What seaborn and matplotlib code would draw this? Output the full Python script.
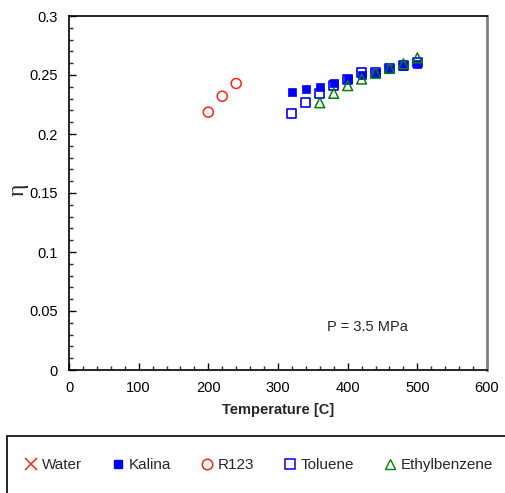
import matplotlib
matplotlib.use("Agg")
import matplotlib.pyplot as plt
import seaborn as sns
import pandas as pd
import numpy as np
from matplotlib.lines import Line2D
from matplotlib.patches import Rectangle
from matplotlib.ticker import MultipleLocator

sns.set_style("white")
plt.rcParams['font.family'] = ['Liberation Sans', 'DejaVu Sans']

# Data
water_T = []
water_eta = []
kalina_T = [320, 340, 360, 380, 400, 420, 440, 460, 480, 500]
kalina_eta = [0.236, 0.238, 0.240, 0.2435, 0.2465, 0.250, 0.2515, 0.2548, 0.2576, 0.2592]
r123_T = [200, 220, 240]
r123_eta = [0.2185, 0.232, 0.2428]
toluene_T = [320, 340, 360, 380, 400, 420, 440, 460, 480, 500]
toluene_eta = [0.2175, 0.2265, 0.234, 0.2413, 0.2465, 0.252, 0.2525, 0.2558, 0.2583, 0.261]
ethyl_T = [360, 380, 400, 420, 440, 460, 480, 500]
ethyl_eta = [0.2265, 0.2345, 0.2410, 0.2466, 0.2515, 0.2556, 0.2595, 0.2645]

x_ticks = [0, 100, 200, 300, 400, 500, 600]
y_ticks = [0, 0.05, 0.1, 0.15, 0.2, 0.25, 0.3]
y_tick_labels = ["0", "0.05", "0.1", "0.15", "0.2", "0.25", "0.3"]

W, H = 505, 493
fig = plt.figure(figsize=(W / 100, H / 100), dpi=100)
ax = fig.add_axes([69 / W, 1 - 370 / H, (487 - 69) / W, (370 - 16) / H])

RED = '#FF2020'
BLUE = '#0000FF'
GREEN = '#008000'

sns.scatterplot(x=toluene_T, y=toluene_eta, ax=ax, marker='s', s=42,
                facecolors='none', edgecolor=BLUE, linewidth=1.2, zorder=3)
sns.scatterplot(x=kalina_T, y=kalina_eta, ax=ax, marker='s', s=26,
                color=BLUE, edgecolor=BLUE, linewidth=0.5, zorder=4)
sns.scatterplot(x=r123_T, y=r123_eta, ax=ax, marker='o', s=52,
                facecolors='none', edgecolor=RED, linewidth=1.1, zorder=3)
sns.scatterplot(x=ethyl_T, y=ethyl_eta, ax=ax, marker='^', s=50,
                facecolors='none', edgecolor=GREEN, linewidth=1.1, zorder=5)

ax.set_xlim(0, 600)
ax.set_ylim(0, 0.3)
ax.set_xticks(x_ticks)
ax.set_yticks(y_ticks)
ax.set_yticklabels(y_tick_labels)
ax.xaxis.set_minor_locator(MultipleLocator(20))
ax.yaxis.set_minor_locator(MultipleLocator(0.01))
ax.tick_params(axis='both', which='major', direction='in', length=5, width=1,
               labelsize=10.5, colors='black', pad=8)
ax.tick_params(axis='both', which='minor', direction='in', length=3, width=1)
ax.tick_params(axis='x', which='both', bottom=True, top=False)
ax.tick_params(axis='y', which='both', left=True, right=False)

for side in ['left', 'bottom', 'top']:
    ax.spines[side].set_color('black')
    ax.spines[side].set_linewidth(1.2)
ax.spines['right'].set_color('#808080')
ax.spines['right'].set_linewidth(2)

ax.set_xlabel("Temperature [C]", fontsize=10.5, fontweight='bold', labelpad=6)
ax.set_ylabel("")
fig.text(18 / W, 1 - 190 / H, "η", family=['Liberation Serif', 'DejaVu Serif'],
         fontsize=17, rotation=90, ha='center', va='center')

ax.text(428, 0.0365, "P = 3.5 MPa", fontsize=10.5, ha='center', va='center')

# Legend frame
fig.patches.append(Rectangle((7 / W, -0.05), 1.0, 1 - 436 / H + 0.05,
                             transform=fig.transFigure, fill=False,
                             edgecolor='black', linewidth=1.2))

handles = [
    Line2D([], [], linestyle='none', marker='x', color=RED, markersize=8, markeredgewidth=1.1),
    Line2D([], [], linestyle='none', marker='s', color=BLUE, markersize=5.5),
    Line2D([], [], linestyle='none', marker='o', markerfacecolor='none', markeredgecolor=RED,
           markersize=7.5, markeredgewidth=1.1),
    Line2D([], [], linestyle='none', marker='s', markerfacecolor='none', markeredgecolor=BLUE,
           markersize=7, markeredgewidth=1.1),
    Line2D([], [], linestyle='none', marker='^', markerfacecolor='none', markeredgecolor=GREEN,
           markersize=7, markeredgewidth=1.0),
]
labels = ["Water", "Kalina", "R123", "Toluene", "Ethylbenzene"]
fig.legend(handles, labels, loc='center left', bbox_to_anchor=(25 / W, 1 - 465 / H),
           ncol=5, frameon=False, fontsize=11, handlelength=0.8, handletextpad=0.3,
           columnspacing=1.95, borderpad=0, borderaxespad=0)

fig.savefig("out.png", dpi=100)
